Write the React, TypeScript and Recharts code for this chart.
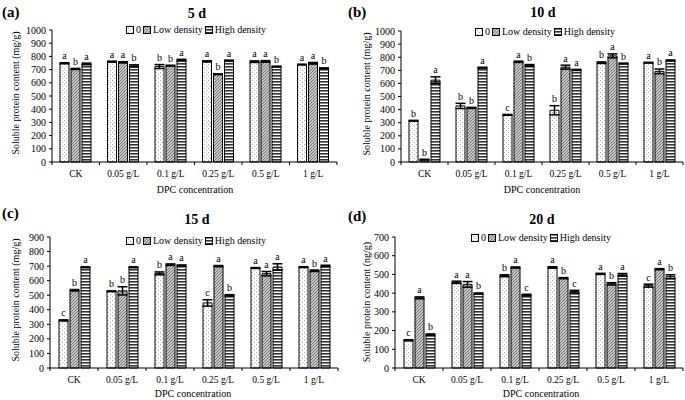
import React from 'react';
import { BarChart, Bar, XAxis, YAxis, ErrorBar, LabelList } from 'recharts';

const categories = ['CK', '0.05 g/L', '0.1 g/L', '0.25 g/L', '0.5 g/L', '1 g/L'];
const seriesNames = ['0', 'Low density', 'High density'];

// (a) 5 d
const d5Zero = [748, 760, 723, 762, 760, 738];
const d5Low = [705, 755, 730, 665, 762, 748];
const d5High = [743, 728, 772, 768, 723, 710];
const d5ZeroErr = [4, 4, 15, 5, 6, 3];
const d5LowErr = [4, 5, 3, 3, 6, 6];
const d5HighErr = [6, 8, 6, 4, 3, 3];
const d5ZeroLet = ['a', 'a', 'b', 'a', 'a', 'a'];
const d5LowLet = ['b', 'a', 'b', 'b', 'a', 'a'];
const d5HighLet = ['a', 'b', 'a', 'a', 'b', 'b'];

// (b) 10 d
const d10Zero = [315, 428, 360, 395, 758, 758];
const d10Low = [18, 413, 765, 724, 810, 692];
const d10High = [625, 720, 738, 703, 752, 775];
const d10ZeroErr = [3, 20, 3, 35, 6, 3];
const d10LowErr = [3, 4, 5, 15, 15, 18];
const d10HighErr = [25, 3, 6, 4, 3, 4];
const d10ZeroLet = ['b', 'b', 'c', 'b', 'b', 'a'];
const d10LowLet = ['b', 'b', 'a', 'a', 'a', 'b'];
const d10HighLet = ['a', 'a', 'b', 'a', 'b', 'a'];

// (c) 15 d
const d15Zero = [327, 527, 650, 447, 687, 693];
const d15Low = [534, 530, 710, 700, 648, 668];
const d15High = [692, 692, 705, 500, 694, 701];
const d15ZeroErr = [4, 3, 10, 22, 3, 3];
const d15LowErr = [5, 28, 5, 4, 15, 5];
const d15HighErr = [3, 3, 3, 4, 22, 5];
const d15ZeroLet = ['c', 'b', 'b', 'c', 'a', 'a'];
const d15LowLet = ['b', 'b', 'a', 'a', 'a', 'b'];
const d15HighLet = ['a', 'a', 'a', 'b', 'a', 'a'];

// (d) 20 d
const d20Zero = [148, 458, 493, 537, 503, 440];
const d20Low = [375, 447, 537, 480, 450, 528];
const d20High = [178, 398, 390, 408, 498, 488];
const d20ZeroErr = [3, 6, 5, 4, 3, 8];
const d20LowErr = [5, 15, 3, 3, 6, 3];
const d20HighErr = [4, 3, 4, 7, 7, 10];
const d20ZeroLet = ['c', 'a', 'b', 'a', 'a', 'c'];
const d20LowLet = ['a', 'a', 'a', 'b', 'b', 'a'];
const d20HighLet = ['b', 'b', 'c', 'c', 'a', 'b'];

const ticks1000 = [0, 100, 200, 300, 400, 500, 600, 700, 800, 900, 1000];
const ticks900 = [0, 100, 200, 300, 400, 500, 600, 700, 800, 900];
const ticks700 = [0, 100, 200, 300, 400, 500, 600, 700];

const FONT = '"Liberation Serif", "Times New Roman", serif';
const fills = ['url(#pDots)', 'url(#pDiag)', 'url(#pHoriz)'];

function buildRows(z: number[], l: number[], h: number[], ze: number[], le: number[], he: number[]) {
  return categories.map((c, i) => ({ cat: c, v0: z[i], v1: l[i], v2: h[i], e0: ze[i], e1: le[i], e2: he[i] }));
}

const letterContent = (letters: string[], errs: number[]) => (props: any) => {
  const vb = props.viewBox && typeof props.viewBox.x === 'number' ? props.viewBox : props;
  const { x, y, width, height } = vb;
  const idx = props.index;
  const value = Number(props.value);
  if (idx == null || x == null) return null;
  const ppu = value ? height / value : 0;
  const top = y - (errs[idx] || 0) * ppu;
  return (
    <text x={x + width / 2} y={top - 3.5} textAnchor="middle" fontSize={10} fontFamily={FONT} fill="#000">
      {letters[idx]}
    </text>
  );
};

function CatTick(props: any) {
  const { x, y, payload, index, visibleTicksCount, half } = props;
  const off = payload && typeof payload.offset === 'number' && payload.offset > 0 ? payload.offset : half;
  const ay = y - 8;
  const last = index === (visibleTicksCount ?? categories.length) - 1;
  return (
    <g>
      <line x1={x - off} x2={x - off} y1={ay} y2={ay + 3} stroke="#000" />
      {last && <line x1={x + off} x2={x + off} y1={ay} y2={ay + 3} stroke="#000" />}
      <text x={x} y={y} dy="0.71em" textAnchor="middle" fontSize={9.5} fontFamily={FONT} fill="#000">
        {payload.value}
      </text>
    </g>
  );
}

function LegendBox({ cx, cy }: { cx: number; cy: number }) {
  return (
    <div
      style={{
        position: 'absolute', left: cx, top: cy, transform: 'translate(-50%,-50%)', display: 'flex',
        alignItems: 'center', whiteSpace: 'nowrap', fontFamily: FONT, fontSize: 10, color: '#000', lineHeight: '10px',
      }}
    >
      {seriesNames.map((n, i) => (
        <span key={n} style={{ display: 'flex', alignItems: 'center', marginRight: i < 2 ? 2 : 0 }}>
          <svg width={8} height={8} style={{ marginRight: 2 }}>
            <rect x={0.5} y={0.5} width={7} height={7} fill={fills[i]} stroke="#000" strokeWidth={1} />
          </svg>
          <span>{n}</span>
        </span>
      ))}
    </div>
  );
}

type PanelProps = {
  left: number; top: number; width: number; tag: string; title: string; titleX: number; titleY: number; tagX: number; tagY: number;
  legendX: number; legendY: number; ylabel: string; ylabelX: number; ylabelY: number; xlabelX: number; xlabelY: number;
  marginTop: number; marginRight: number; yAxisWidth: number; xAxisHeight: number; ymax: number; ticks: number[];
  rows: any[]; letters: string[][]; errs: number[][]; half: number;
};

function Panel(p: PanelProps) {
  return (
    <div style={{ position: 'absolute', left: p.left, top: p.top, width: p.width, height: 200 }}>
      <BarChart
        width={p.width}
        height={200}
        data={p.rows}
        margin={{ top: p.marginTop, right: p.marginRight, left: 0, bottom: 0 }}
        barSize={9}
        barGap={2}
      >
        <XAxis
          dataKey="cat"
          interval={0}
          height={p.xAxisHeight}
          axisLine={{ stroke: '#000', strokeWidth: 1 }}
          tickLine={false}
          tickSize={6}
          tickMargin={2}
          tick={<CatTick half={p.half} />}
        />
        <YAxis
          type="number"
          domain={[0, p.ymax]}
          ticks={p.ticks}
          interval={0}
          width={p.yAxisWidth}
          axisLine={{ stroke: '#000', strokeWidth: 1 }}
          tickLine={{ stroke: '#000' }}
          tickSize={3}
          tickMargin={3}
          tick={{ fontSize: 10, fontFamily: FONT, fill: '#000' }}
        />
        {[0, 1, 2].map((k) => (
          <Bar key={k} dataKey={`v${k}`} fill={fills[k]} stroke="#000" strokeWidth={1} isAnimationActive={false}>
            <ErrorBar dataKey={`e${k}`} width={5} strokeWidth={1.5} stroke="#000" direction="y" isAnimationActive={false} />
            <LabelList dataKey={`v${k}`} content={letterContent(p.letters[k], p.errs[k])} />
          </Bar>
        ))}
      </BarChart>
      <div style={{ position: 'absolute', left: p.tagX, top: p.tagY, transform: 'translateY(-50%)', fontFamily: FONT, fontWeight: 'bold', fontSize: 15, lineHeight: '15px', color: '#000' }}>
        {p.tag}
      </div>
      <div style={{ position: 'absolute', left: p.titleX, top: p.titleY, transform: 'translate(-50%,-50%)', fontFamily: FONT, fontWeight: 'bold', fontSize: 14, lineHeight: '14px', whiteSpace: 'nowrap', color: '#000' }}>
        {p.title}
      </div>
      <LegendBox cx={p.legendX} cy={p.legendY} />
      <div style={{ position: 'absolute', left: p.ylabelX, top: p.ylabelY, transform: 'translate(-50%,-50%) rotate(-90deg)', fontFamily: FONT, fontSize: 10, lineHeight: '10px', whiteSpace: 'nowrap', color: '#000' }}>
        {p.ylabel}
      </div>
      <div style={{ position: 'absolute', left: p.xlabelX, top: p.xlabelY, transform: 'translate(-50%,-50%)', fontFamily: FONT, fontSize: 10, lineHeight: '10px', whiteSpace: 'nowrap', color: '#000' }}>
        DPC concentration
      </div>
    </div>
  );
}

export default function App() {
  const rowsA = buildRows(d5Zero, d5Low, d5High, d5ZeroErr, d5LowErr, d5HighErr);
  const rowsB = buildRows(d10Zero, d10Low, d10High, d10ZeroErr, d10LowErr, d10HighErr);
  const rowsC = buildRows(d15Zero, d15Low, d15High, d15ZeroErr, d15LowErr, d15HighErr);
  const rowsD = buildRows(d20Zero, d20Low, d20High, d20ZeroErr, d20LowErr, d20HighErr);
  return (
    <div style={{ position: 'absolute', left: 0, top: 0, width: 685, height: 400, background: '#fff', overflow: 'hidden' }}>
      <svg width={0} height={0} style={{ position: 'absolute' }}>
        <defs>
          <pattern id="pDots" width={4} height={4} patternUnits="userSpaceOnUse">
            <rect width={4} height={4} fill="#fff" />
            <rect x={0} y={0} width={1} height={1} fill="#aaa" />
            <rect x={2} y={2} width={1} height={1} fill="#aaa" />
          </pattern>
          <pattern id="pDiag" width={3} height={3} patternUnits="userSpaceOnUse">
            <rect width={3} height={3} fill="#c8c8c8" />
            <path d="M0,3 L3,0 M-1,1 L1,-1 M2,4 L4,2" stroke="#6a6a6a" strokeWidth={0.9} />
          </pattern>
          <pattern id="pHoriz" width={4} height={3} patternUnits="userSpaceOnUse">
            <rect width={4} height={3} fill="#fff" />
            <rect width={4} height={1.6} fill="#333" />
          </pattern>
        </defs>
      </svg>
      <Panel
        left={0} top={0} width={342} tag="(a)" tagX={2} tagY={12} title="5 d" titleX={197} titleY={14}
        legendX={196} legendY={30} ylabel="Soluble protein content (mg/g)" ylabelX={16} ylabelY={93}
        xlabelX={195} xlabelY={190} marginTop={30} marginRight={5} yAxisWidth={52} xAxisHeight={38}
        ymax={1000} ticks={ticks1000} rows={rowsA}
        letters={[d5ZeroLet, d5LowLet, d5HighLet]} errs={[d5ZeroErr, d5LowErr, d5HighErr]} half={23.75}
      />
      <Panel
        left={340} top={0} width={345} tag="(b)" tagX={8} tagY={12} title="10 d" titleX={203} titleY={13}
        legendX={205} legendY={32} ylabel="Soluble protein content (mg/g)" ylabelX={27} ylabelY={94}
        xlabelX={202} xlabelY={190} marginTop={31} marginRight={2} yAxisWidth={61} xAxisHeight={38}
        ymax={1000} ticks={ticks1000} rows={rowsB}
        letters={[d10ZeroLet, d10LowLet, d10HighLet]} errs={[d10ZeroErr, d10LowErr, d10HighErr]} half={23.5}
      />
      <Panel
        left={0} top={200} width={342} tag="(c)" tagX={2} tagY={13} title="15 d" titleX={197} titleY={20}
        legendX={196} legendY={41} ylabel="Soluble protein content (mg/g)" ylabelX={16} ylabelY={100}
        xlabelX={193} xlabelY={194} marginTop={37} marginRight={4} yAxisWidth={50} xAxisHeight={32}
        ymax={900} ticks={ticks900} rows={rowsC}
        letters={[d15ZeroLet, d15LowLet, d15HighLet]} errs={[d15ZeroErr, d15LowErr, d15HighErr]} half={24}
      />
      <Panel
        left={340} top={200} width={345} tag="(d)" tagX={8} tagY={16} title="20 d" titleX={202} titleY={20}
        legendX={201} legendY={38} ylabel="Soluble protein content (ng/g)" ylabelX={27} ylabelY={102}
        xlabelX={201} xlabelY={194} marginTop={37} marginRight={2} yAxisWidth={55} xAxisHeight={32}
        ymax={700} ticks={ticks700} rows={rowsD}
        letters={[d20ZeroLet, d20LowLet, d20HighLet]} errs={[d20ZeroErr, d20LowErr, d20HighErr]} half={24}
      />
    </div>
  );
}
